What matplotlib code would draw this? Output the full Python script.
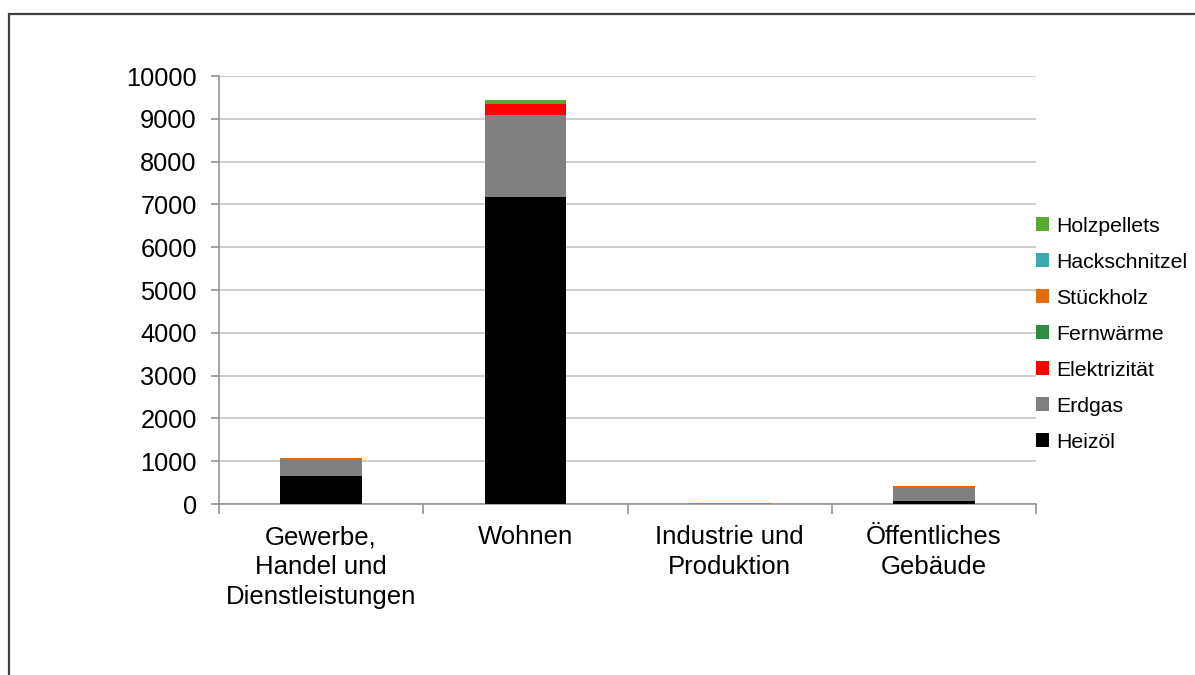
import numpy as np
import matplotlib.pyplot as plt
from matplotlib.patches import Rectangle

plt.rcParams['font.family'] = ['Liberation Sans', 'DejaVu Sans']

# categories and series
categories = ["Gewerbe,\nHandel und\nDienstleistungen", "Wohnen",
              "Industrie und\nProduktion", "Öffentliches\nGebäude"]
series_names = ["Heizöl", "Erdgas", "Elektrizität", "Fernwärme",
                "Stückholz", "Hackschnitzel", "Holzpellets"]
heizoel = [650, 7180, 0, 60]
erdgas = [400, 1910, 10, 330]
elektrizitaet = [0, 265, 0, 0]
fernwaerme = [0, 0, 0, 0]
stueckholz = [15, 0, 5, 20]
hackschnitzel = [0, 0, 0, 0]
holzpellets = [0, 85, 0, 0]
colors = ["#000000", "#808080", "#ff0000", "#2e8b42",
          "#e36c0a", "#3fa9b0", "#58a832"]

series = [heizoel, erdgas, elektrizitaet, fernwaerme,
          stueckholz, hackschnitzel, holzpellets]

W, H = 1195, 675
fig = plt.figure(figsize=(W / 100, H / 100), dpi=100)
ax = fig.add_axes([219 / W, 1 - 504 / H, (1036 - 219) / W, (504 - 76) / H])

x = np.arange(len(categories))
bottom = np.zeros(len(categories))
handles = []
for name, vals, c in zip(series_names, series, colors):
    h = ax.bar(x, vals, width=0.4, bottom=bottom, color=c, label=name,
               zorder=3)
    bottom += np.array(vals)
    handles.append(h)

ax.set_xlim(-0.5, len(categories) - 0.5)
ax.set_ylim(0, 10000)
ax.set_yticks(np.arange(0, 10001, 1000))
ax.yaxis.grid(True, color="#c0c0c0", linewidth=1.1, zorder=0)
ax.set_axisbelow(True)

for s in ["top", "right"]:
    ax.spines[s].set_visible(False)
ax.spines["left"].set_color("#8c8c8c")
ax.spines["bottom"].set_color("#8c8c8c")
ax.spines["left"].set_linewidth(1.1)
ax.spines["bottom"].set_linewidth(1.1)

ax.tick_params(axis="y", labelsize=18.3, length=6, color="#8c8c8c",
               pad=10, width=1.1)
ax.set_xticks(np.arange(-0.5, len(categories), 1.0))
ax.set_xticklabels([])
ax.tick_params(axis="x", length=7, color="#8c8c8c", width=1.1)
for i, lab in enumerate(categories):
    ax.text(i, -500, lab, ha="center", va="top", fontsize=18.5,
            linespacing=1.3)

leg = ax.legend(handles[::-1], series_names[::-1], loc="center left",
                bbox_to_anchor=(0.99, 0.397), frameon=False, fontsize=15.3,
                handlelength=0.6, handleheight=0.6, handletextpad=0.35,
                labelspacing=0.8, borderaxespad=0.0)

# outer chart frame (right and bottom edges run off the image)
fig.patches.append(Rectangle((8.5 / W, -0.1), 1.2, 1 - 13.5 / H + 0.1,
                             transform=fig.transFigure, fill=False,
                             edgecolor="#404040", linewidth=1.6))

fig.savefig("out.png", dpi=100)
